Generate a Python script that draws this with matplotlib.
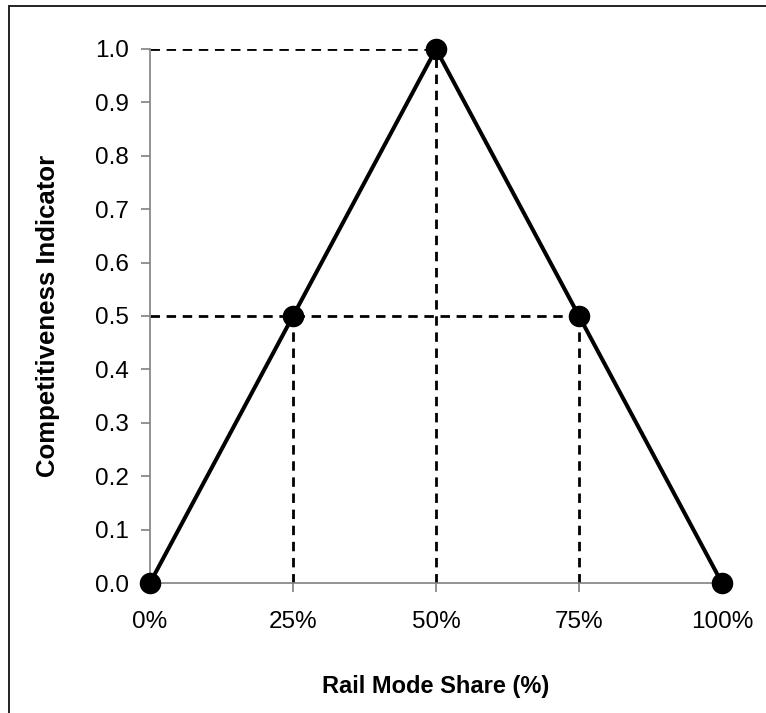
import matplotlib
matplotlib.use("Agg")
import matplotlib.pyplot as plt
from matplotlib.patches import Rectangle

plt.rcParams['font.family'] = ['Liberation Sans', 'DejaVu Sans']

# Competitiveness indicator as a function of rail mode share
share = [0.0, 0.25, 0.50, 0.75, 1.0]
indicator = [0.0, 0.5, 1.0, 0.5, 0.0]
x_ticks = [0.0, 0.25, 0.50, 0.75, 1.0]
x_labels = ["0%", "25%", "50%", "75%", "100%"]
y_ticks = [0.0, 0.1, 0.2, 0.3, 0.4, 0.5, 0.6, 0.7, 0.8, 0.9, 1.0]

W, H = 766, 713
fig = plt.figure(figsize=(W / 100, H / 100), dpi=100)
ax = fig.add_axes([150 / W, 1 - 583 / H, (722 - 150) / W, (583 - 49) / H])

# outer frame
fig.patches.append(Rectangle((8.5 / W, -0.1), 1.2, 1 - 6.5 / H + 0.1,
                             transform=fig.transFigure, fill=False,
                             edgecolor="#222222", linewidth=1.4))

dash = dict(color="black", linewidth=2.0, linestyle=(0, (3.4, 2.4)), zorder=2)
# guide lines from the key points to the axes
ax.plot([share[0], share[2]], [indicator[2], indicator[2]], **dash)
ax.plot([share[2], share[2]], [0, indicator[2]], **dash)
ax.plot([share[0], share[3]], [indicator[1], indicator[1]], **dash)
ax.plot([share[1], share[1]], [0, indicator[1]], **dash)
ax.plot([share[3], share[3]], [0, indicator[3]], **dash)

ax.plot(share, indicator, color="black", linewidth=2.9, marker="o",
        markersize=14.5, clip_on=False, zorder=4)

ax.set_xlim(0, 1)
ax.set_ylim(0, 1)
ax.set_xticks(x_ticks)
ax.set_xticklabels(x_labels)
ax.set_yticks(y_ticks)
ax.set_yticklabels([f"{v:.1f}" for v in y_ticks])

for s in ("top", "right"):
    ax.spines[s].set_visible(False)
for s in ("left", "bottom"):
    ax.spines[s].set_color("#808080")
    ax.spines[s].set_linewidth(1.2)
ax.tick_params(axis="both", direction="out", length=6.5, width=1.2,
               color="#808080", labelcolor="black")
ax.tick_params(axis="x", pad=14, labelsize=17.5)
ax.tick_params(axis="y", pad=8.5, labelsize=17.5)

ax.set_xlabel("Rail Mode Share (%)", fontsize=17, fontweight="bold", labelpad=30)
ax.set_ylabel("Competitiveness Indicator", fontsize=18.5, fontweight="bold", labelpad=25)

fig.savefig("out.png", dpi=100)
